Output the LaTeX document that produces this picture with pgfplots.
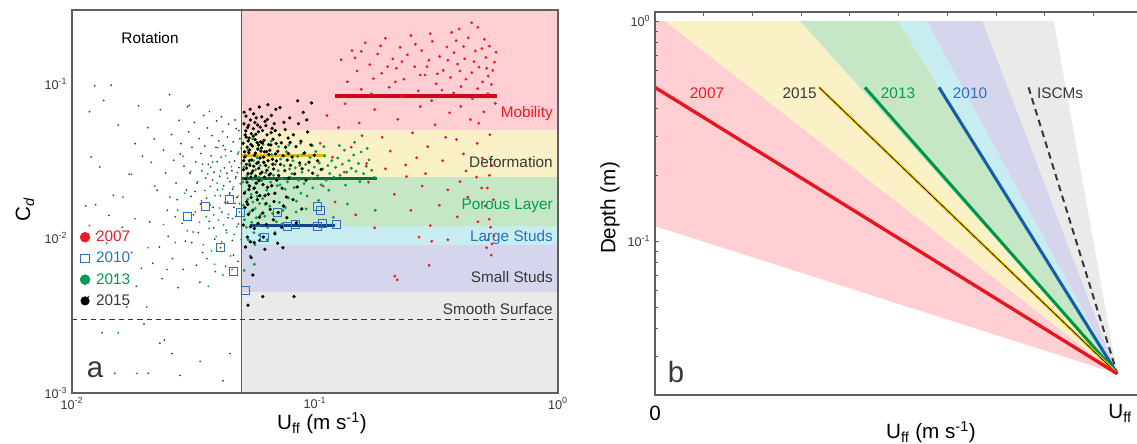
\documentclass[border=0pt]{standalone}
\usepackage{fontspec}
\setmainfont{Liberation Sans}
\setsansfont{Liberation Sans}
\usepackage{pgfplots}
\pgfplotsset{compat=1.18}
\definecolor{pinkband}{RGB}{255,207,212}
\definecolor{yelband}{RGB}{250,242,198}
\definecolor{grnband}{RGB}{197,231,197}
\definecolor{cyaband}{RGB}{200,237,241}
\definecolor{lavband}{RGB}{213,213,236}
\definecolor{gryband}{RGB}{234,234,234}
\definecolor{redc}{RGB}{238,28,36}
\definecolor{grnc}{RGB}{0,158,80}
\definecolor{bluc}{RGB}{45,112,190}
\definecolor{txtgray}{RGB}{55,55,55}
\definecolor{axgray}{RGB}{95,95,95}
\definecolor{redmean}{RGB}{205,10,30}
\definecolor{yelmean}{RGB}{232,185,10}
\definecolor{grnmean}{RGB}{0,112,55}
\definecolor{blumean}{RGB}{25,65,145}
\definecolor{redline}{RGB}{232,20,30}
\definecolor{yelline}{RGB}{242,200,20}
\definecolor{grnline}{RGB}{0,150,72}
\definecolor{bluline}{RGB}{20,92,172}
\newcommand\lab{\fontsize{11.5}{13.8}\selectfont}
\newcommand\axl{\fontsize{15.5}{18}\selectfont}
\newcommand\tkl{\fontsize{9.5}{11}\selectfont}
\newcommand\pl{\fontsize{22}{26}\selectfont}
\begin{document}
\begin{tikzpicture}[x=0.75pt,y=0.75pt]
\useasboundingbox (0,0) rectangle (1137,443);
% ---------------- panel a ----------------
\begin{axis}[at={(54pt,37.5pt)}, anchor=south west, scale only axis,
  width=364.5pt, height=287.25pt,
  xmode=log, ymode=log, xmin=0.01, xmax=1, ymin=0.001, ymax=0.3,
  axis on top,
  axis line style={draw=axgray, line width=0.8pt},
  xtick={0.01,0.1,1}, xticklabels={10\textsuperscript{-2},10\textsuperscript{-1},10\textsuperscript{0}},
  ytick={0.001,0.01,0.1}, yticklabels={10\textsuperscript{-3},10\textsuperscript{-2},10\textsuperscript{-1}},
  major tick length=0pt, minor tick length=0pt,
  tick label style={font=\tkl, text=txtgray},
  legend style={at={(0.008,0.438)}, anchor=north west, draw=none, fill=none, font=\lab, row sep=2.4pt,
    /tikz/every odd column/.append style={column sep=2.5pt}},
  legend cell align=left,
  clip=true]
\addplot[draw=none, fill=pinkband, forget plot] coordinates {(0.05,0.05) (1,0.05) (1,0.3) (0.05,0.3)} -- cycle;
\addplot[draw=none, fill=yelband, forget plot] coordinates {(0.05,0.025) (1,0.025) (1,0.05) (0.05,0.05)} -- cycle;
\addplot[draw=none, fill=grnband, forget plot] coordinates {(0.05,0.012) (1,0.012) (1,0.025) (0.05,0.025)} -- cycle;
\addplot[draw=none, fill=cyaband, forget plot] coordinates {(0.05,0.009) (1,0.009) (1,0.012) (0.05,0.012)} -- cycle;
\addplot[draw=none, fill=lavband, forget plot] coordinates {(0.05,0.0045) (1,0.0045) (1,0.009) (0.05,0.009)} -- cycle;
\addplot[draw=none, fill=gryband, forget plot] coordinates {(0.05,0.001) (1,0.001) (1,0.0045) (0.05,0.0045)} -- cycle;
\addplot[txtgray, line width=1pt, dash pattern=on 4pt off 3pt, forget plot] coordinates {(0.01,0.003) (1,0.003)};
\addplot[axgray, line width=0.8pt, forget plot] coordinates {(0.05,0.001) (0.05,0.3)};
% small dots, rotation region (2015)
\addplot[only marks, mark=*, mark size=0.45pt, black!75, forget plot] coordinates {
(0.0124,0.097) (0.0135,0.078) (0.0145,0.098) (0.0118,0.066) (0.0120,0.0336) (0.0114,0.0162) (0.0125,0.0165) (0.0130,0.029) (0.0142,0.0141) (0.0155,0.054) (0.0148,0.019) (0.0172,0.026) (0.0188,0.072) (0.0182,0.041) (0.0195,0.034) (0.0126,0.0107) (0.0139,0.0093) (0.0161,0.0118) (0.0176,0.0081) (0.0193,0.0064) (0.0151,0.0057) (0.0184,0.0049) (0.0168,0.0036) (0.0198,0.0028) (0.0133,0.00245) (0.0150,0.00134) (0.0206,0.00134) (0.0230,0.0021) (0.0240,0.0022) (0.0258,0.0018) (0.0278,0.0013) (0.0337,0.0016) (0.0418,0.0012) (0.0447,0.0018) (0.0117,0.0042)
(0.0205,0.052) (0.0212,0.031) (0.0218,0.044) (0.0224,0.0205) (0.0209,0.0128) (0.0231,0.068) (0.0238,0.0372) (0.0243,0.0265) (0.0229,0.0088) (0.0247,0.0152) (0.0215,0.0069) (0.0235,0.0055) (0.0249,0.0103)
(0.0252,0.085) (0.0257,0.047) (0.0262,0.032) (0.0268,0.0228) (0.0271,0.0178) (0.0276,0.058) (0.0281,0.041) (0.0284,0.0125) (0.0289,0.0293) (0.0293,0.0096) (0.0296,0.0206) (0.0259,0.0074) (0.0273,0.0048) (0.0287,0.0063) (0.0299,0.071) (0.0266,0.0138) (0.0279,0.0351)
(0.0302,0.049) (0.0306,0.0264) (0.0309,0.0187) (0.0312,0.0388) (0.0316,0.0142) (0.0319,0.0562) (0.0323,0.0312) (0.0327,0.0228) (0.0331,0.0109) (0.0334,0.0442) (0.0338,0.0167) (0.0342,0.0273) (0.0345,0.0081) (0.0348,0.0623) (0.0311,0.0094) (0.0325,0.0067) (0.0339,0.0354) (0.0304,0.0725) (0.0336,0.0052) (0.0321,0.0201)
(0.0352,0.0395) (0.0355,0.0246) (0.0358,0.0182) (0.0361,0.0519) (0.0364,0.0301) (0.0367,0.0129) (0.0371,0.0217) (0.0374,0.0342) (0.0377,0.0462) (0.0381,0.0159) (0.0384,0.0268) (0.0387,0.0099) (0.0391,0.0388) (0.0394,0.0575) (0.0397,0.0206) (0.0359,0.0074) (0.0372,0.0288) (0.0383,0.0117) (0.0389,0.0061) (0.0368,0.0662) (0.0379,0.0238) (0.0396,0.0314)
(0.0402,0.0427) (0.0405,0.0252) (0.0408,0.0189) (0.0411,0.0335) (0.0414,0.0148) (0.0417,0.0491) (0.0421,0.0219) (0.0424,0.0286) (0.0427,0.0375) (0.0431,0.0113) (0.0434,0.0264) (0.0437,0.0172) (0.0441,0.0548) (0.0444,0.0311) (0.0447,0.0233) (0.0409,0.0087) (0.0419,0.0398) (0.0429,0.0066) (0.0439,0.0136) (0.0412,0.0612) (0.0436,0.0452) (0.0446,0.0197)
(0.0452,0.0366) (0.0455,0.0274) (0.0458,0.0208) (0.0461,0.0421) (0.0464,0.0159) (0.0467,0.0317) (0.0471,0.0245) (0.0474,0.0513) (0.0477,0.0184) (0.0481,0.0352) (0.0484,0.0124) (0.0487,0.0287) (0.0491,0.0441) (0.0494,0.0226) (0.0497,0.0383) (0.0457,0.0097) (0.0469,0.0583) (0.0479,0.0266) (0.0489,0.0168) (0.0462,0.0078) (0.0486,0.0498) (0.0473,0.0139) (0.0498,0.0305) (0.0482,0.0071)
};
% small dots, rotation region (2013)
\addplot[only marks, mark=*, mark size=0.45pt, grnc, forget plot] coordinates {
(0.0118,0.0121) (0.0162,0.0185) (0.0176,0.026) (0.0203,0.0036) (0.0219,0.0218) (0.0246,0.0063) (0.0253,0.0185) (0.0286,0.034) (0.0291,0.0196) (0.0298,0.0112) (0.0315,0.011) (0.0322,0.0148) (0.0329,0.0233) (0.0335,0.0127) (0.0341,0.0175) (0.0347,0.0091) (0.0352,0.0204) (0.0357,0.0138) (0.0362,0.0261) (0.0366,0.0116) (0.0371,0.0165) (0.0375,0.0083) (0.0379,0.0312) (0.0383,0.0142) (0.0388,0.0189) (0.0392,0.0103) (0.0396,0.0228) (0.0401,0.0131) (0.0405,0.0157) (0.0409,0.0274) (0.0413,0.0095) (0.0417,0.0208) (0.0421,0.0122) (0.0425,0.0171) (0.0429,0.0342) (0.0433,0.0109) (0.0437,0.0246) (0.0441,0.0143) (0.0445,0.0192) (0.0449,0.0077) (0.0453,0.0291) (0.0457,0.0134) (0.0461,0.0215) (0.0465,0.0106) (0.0469,0.0168) (0.0473,0.0251) (0.0477,0.0119) (0.0481,0.0187) (0.0485,0.0362) (0.0489,0.0148) (0.0493,0.0226) (0.0497,0.0098) (0.0308,0.0271) (0.0272,0.0152) (0.0266,0.0094) (0.0386,0.0068) (0.0418,0.0058) (0.0364,0.0049) (0.0155,0.00245) (0.0185,0.00134) (0.0182,0.0134) (0.0206,0.0087) (0.0238,0.0123) (0.0344,0.0302) (0.0398,0.0386) (0.0456,0.0063)
};
% 2007 red
\addplot[only marks, mark=*, mark size=0.85pt, redc, forget plot] coordinates {
(0.128,0.143) (0.136,0.103) (0.142,0.164) (0.149,0.121) (0.155,0.092) (0.161,0.184) (0.168,0.133) (0.174,0.108) (0.181,0.156) (0.188,0.117) (0.195,0.197) (0.202,0.095) (0.209,0.145) (0.216,0.126) (0.224,0.172) (0.232,0.107) (0.240,0.154) (0.248,0.205) (0.257,0.129) (0.266,0.090) (0.275,0.164) (0.284,0.114) (0.294,0.142) (0.304,0.188) (0.315,0.100) (0.326,0.150) (0.337,0.122) (0.349,0.173) (0.361,0.110) (0.373,0.159) (0.386,0.134) (0.399,0.096) (0.413,0.145) (0.427,0.198) (0.442,0.118) (0.457,0.163) (0.473,0.128) (0.489,0.103) (0.505,0.148) (0.522,0.175) (0.539,0.122) (0.556,0.160) (0.146,0.147) (0.171,0.086) (0.199,0.129) (0.228,0.139) (0.259,0.180) (0.289,0.129) (0.319,0.116) (0.352,0.142) (0.381,0.190) (0.418,0.107) (0.451,0.139) (0.486,0.169) (0.516,0.112) (0.548,0.138) (0.214,0.103) (0.271,0.114) (0.333,0.091) (0.395,0.121) (0.467,0.093) (0.532,0.099) (0.186,0.176) (0.298,0.211) (0.409,0.174) (0.498,0.194) (0.441,0.248) (0.365,0.215) (0.155,0.162) (0.509,0.126) (0.468,0.232) (0.392,0.226)
(0.105,0.0412) (0.112,0.0623) (0.118,0.0335) (0.125,0.0521) (0.133,0.0742) (0.141,0.0389) (0.152,0.0558) (0.163,0.0305) (0.176,0.0682) (0.189,0.0451) (0.204,0.0367) (0.219,0.0589) (0.236,0.0298) (0.252,0.0481) (0.271,0.0712) (0.291,0.0392) (0.312,0.0543) (0.335,0.0318) (0.358,0.0649) (0.382,0.0436) (0.408,0.0352) (0.436,0.0587) (0.465,0.0412) (0.495,0.0658) (0.524,0.0468) (0.552,0.0746) (0.228,0.0826) (0.302,0.0778) (0.372,0.0872) (0.445,0.0801) (0.515,0.0862) (0.195,0.0282) (0.262,0.0332) (0.345,0.0451) (0.418,0.0273) (0.488,0.0331) (0.535,0.0296) (0.156,0.0462) (0.285,0.0262) (0.398,0.0714) (0.472,0.0556)
(0.108,0.0218) (0.121,0.0172) (0.147,0.0142) (0.166,0.0231) (0.212,0.0193) (0.248,0.0152) (0.276,0.0218) (0.298,0.0121) (0.325,0.0164) (0.352,0.0206) (0.385,0.0138) (0.425,0.0185) (0.462,0.0249) (0.502,0.0162) (0.521,0.0133) (0.528,0.0118) (0.516,0.0098) (0.535,0.0092) (0.508,0.0087) (0.531,0.0078) (0.213,0.0057) (0.218,0.0054) (0.295,0.0067) (0.268,0.0102) (0.302,0.0096) (0.352,0.0098) (0.545,0.0104) (0.485,0.0212) (0.395,0.0233) (0.238,0.0251) (0.132,0.0268) (0.522,0.0256) (0.512,0.0212) (0.542,0.0178) (0.468,0.0128) (0.176,0.0117)
};
% 2013 green
\addplot[only marks, mark=*, mark size=0.9pt, grnc, forget plot] coordinates {
(0.0504,0.0231) (0.0507,0.0164) (0.0510,0.0289) (0.0513,0.0132) (0.0516,0.0201) (0.0519,0.0342) (0.0522,0.0118) (0.0525,0.0254) (0.0528,0.0179) (0.0531,0.0098) (0.0534,0.0221) (0.0537,0.0305) (0.0540,0.0148) (0.0543,0.0263) (0.0546,0.0193) (0.0549,0.0127) (0.0552,0.0241) (0.0555,0.0172) (0.0558,0.0318) (0.0561,0.0109) (0.0564,0.0213) (0.0567,0.0156) (0.0570,0.0278) (0.0573,0.0136) (0.0576,0.0227) (0.0579,0.0187) (0.0582,0.0382) (0.0585,0.0121) (0.0588,0.0249) (0.0591,0.0168) (0.0594,0.0296) (0.0597,0.0142) (0.0506,0.0411) (0.0518,0.0088) (0.0530,0.0371) (0.0542,0.0077) (0.0554,0.0439) (0.0566,0.0091) (0.0578,0.0332) (0.0590,0.0105) (0.0511,0.0062) (0.0563,0.0068)
(0.0603,0.0236) (0.0609,0.0181) (0.0615,0.0312) (0.0621,0.0139) (0.0627,0.0266) (0.0633,0.0205) (0.0639,0.0118) (0.0645,0.0288) (0.0651,0.0162) (0.0657,0.0231) (0.0663,0.0349) (0.0669,0.0145) (0.0675,0.0256) (0.0681,0.0195) (0.0687,0.0301) (0.0693,0.0128) (0.0699,0.0219) (0.0706,0.0274) (0.0714,0.0171) (0.0722,0.0326) (0.0730,0.0243) (0.0738,0.0152) (0.0746,0.0295) (0.0754,0.0208) (0.0762,0.0364) (0.0770,0.0232) (0.0778,0.0183) (0.0786,0.0281) (0.0794,0.0247) (0.0612,0.0405) (0.0636,0.0098) (0.0660,0.0425) (0.0684,0.0109) (0.0708,0.0392) (0.0732,0.0124) (0.0756,0.0158) (0.0780,0.0402) (0.0624,0.0166) (0.0672,0.0303) (0.0718,0.0222)
(0.0803,0.0262) (0.0812,0.0318) (0.0821,0.0213) (0.0830,0.0286) (0.0839,0.0174) (0.0848,0.0339) (0.0857,0.0238) (0.0866,0.0297) (0.0875,0.0196) (0.0884,0.0268) (0.0893,0.0352) (0.0902,0.0226) (0.0915,0.0301) (0.0928,0.0188) (0.0941,0.0275) (0.0954,0.0334) (0.0967,0.0245) (0.0980,0.0212) (0.0993,0.0289) (0.1008,0.0365) (0.1025,0.0255) (0.1042,0.0307) (0.1059,0.0222) (0.1076,0.0281) (0.1093,0.0342) (0.1110,0.0238) (0.1130,0.0296) (0.1150,0.0263) (0.1172,0.0318) (0.1195,0.0249) (0.0836,0.0148) (0.0872,0.0412) (0.0920,0.0155) (0.0975,0.0398) (0.1035,0.0176) (0.1088,0.0392) (0.1140,0.0205)
(0.1215,0.0288) (0.1240,0.0331) (0.1268,0.0256) (0.1295,0.0302) (0.1322,0.0372) (0.1350,0.0268) (0.1380,0.0318) (0.1410,0.0284) (0.1442,0.0346) (0.1475,0.0272) (0.1510,0.0305) (0.1548,0.0362) (0.1585,0.0262) (0.1625,0.0293) (0.1668,0.0322) (0.1712,0.0276) (0.1755,0.0248) (0.1260,0.0398) (0.1335,0.0221) (0.1455,0.0418) (0.1530,0.0233) (0.1640,0.0382) (0.1360,0.0167) (0.1190,0.0137) (0.1770,0.0152)
};
% 2015 black
\addplot[only marks, mark=*, mark size=1.05pt, black, forget plot] coordinates {
(0.0506,0.0412) (0.0508,0.0278) (0.0510,0.0551) (0.0512,0.0196) (0.0514,0.0336) (0.0516,0.0467) (0.0518,0.0243) (0.0520,0.0618) (0.0522,0.0301) (0.0524,0.0172) (0.0526,0.0389) (0.0528,0.0521) (0.0530,0.0262) (0.0532,0.0143) (0.0534,0.0358) (0.0536,0.0446) (0.0538,0.0218) (0.0540,0.0297) (0.0542,0.0583) (0.0544,0.0405) (0.0546,0.0184) (0.0548,0.0322) (0.0507,0.0122) (0.0513,0.0363) (0.0519,0.0495) (0.0525,0.0231) (0.0531,0.0427) (0.0537,0.0318) (0.0543,0.0119) (0.0549,0.0264) (0.0511,0.0655) (0.0523,0.0285) (0.0535,0.0207) (0.0547,0.0476) (0.0515,0.0158) (0.0527,0.0102) (0.0539,0.0374) (0.0521,0.0452) (0.0533,0.0539) (0.0545,0.0249) (0.0509,0.0318) (0.0541,0.0684) (0.0529,0.0166) (0.0517,0.0088)
(0.0552,0.0396) (0.0555,0.0273) (0.0558,0.0512) (0.0561,0.0211) (0.0564,0.0344) (0.0567,0.0436) (0.0570,0.0253) (0.0573,0.0602) (0.0576,0.0306) (0.0579,0.0178) (0.0582,0.0378) (0.0585,0.0489) (0.0588,0.0236) (0.0591,0.0137) (0.0594,0.0331) (0.0597,0.0421) (0.0554,0.0152) (0.0560,0.0293) (0.0566,0.0562) (0.0572,0.0228) (0.0578,0.0417) (0.0584,0.0311) (0.0590,0.0708) (0.0596,0.0262) (0.0557,0.0459) (0.0563,0.0116) (0.0569,0.0356) (0.0575,0.0198) (0.0581,0.0541) (0.0587,0.0284) (0.0593,0.0189) (0.0599,0.0367) (0.0559,0.0639) (0.0571,0.0472) (0.0583,0.0125) (0.0595,0.0524) (0.0562,0.0094) (0.0586,0.0402)
(0.0602,0.0385) (0.0605,0.0268) (0.0608,0.0498) (0.0611,0.0223) (0.0614,0.0335) (0.0617,0.0431) (0.0620,0.0249) (0.0623,0.0571) (0.0626,0.0296) (0.0629,0.0168) (0.0632,0.0364) (0.0635,0.0467) (0.0638,0.0214) (0.0641,0.0318) (0.0644,0.0404) (0.0647,0.0257) (0.0604,0.0611) (0.0610,0.0146) (0.0616,0.0309) (0.0622,0.0189) (0.0628,0.0536) (0.0634,0.0276) (0.0640,0.0732) (0.0646,0.0349) (0.0607,0.0415) (0.0619,0.0363) (0.0631,0.0123) (0.0643,0.0193) (0.0613,0.0102) (0.0637,0.0588)
(0.0652,0.0372) (0.0656,0.0262) (0.0660,0.0483) (0.0664,0.0219) (0.0668,0.0325) (0.0672,0.0438) (0.0676,0.0281) (0.0680,0.0552) (0.0684,0.0196) (0.0688,0.0352) (0.0692,0.0411) (0.0696,0.0238) (0.0654,0.0154) (0.0662,0.0624) (0.0670,0.0301) (0.0678,0.0173) (0.0686,0.0497) (0.0694,0.0317) (0.0658,0.0402) (0.0674,0.0132) (0.0690,0.0684) (0.0666,0.0515)
(0.0703,0.0366) (0.0709,0.0255) (0.0715,0.0467) (0.0721,0.0301) (0.0727,0.0415) (0.0733,0.0211) (0.0739,0.0342) (0.0745,0.0563) (0.0751,0.0274) (0.0757,0.0389) (0.0763,0.0185) (0.0769,0.0321) (0.0775,0.0446) (0.0781,0.0246) (0.0787,0.0602) (0.0793,0.0297) (0.0706,0.0147) (0.0718,0.0701) (0.0730,0.0118) (0.0742,0.0162) (0.0754,0.0505) (0.0766,0.0136) (0.0778,0.0354) (0.0790,0.0417)
(0.0805,0.0336) (0.0815,0.0468) (0.0825,0.0261) (0.0835,0.0392) (0.0845,0.0215) (0.0855,0.0552) (0.0865,0.0308) (0.0875,0.0425) (0.0885,0.0282) (0.0895,0.0653) (0.0905,0.0357) (0.0918,0.0238) (0.0932,0.0488) (0.0945,0.0311) (0.0962,0.0402) (0.0978,0.0264) (0.0995,0.0345) (0.0812,0.0178) (0.0848,0.0776) (0.0882,0.0155) (0.0925,0.0584) (0.0968,0.0752) (0.1025,0.0318) (0.1060,0.0279) (0.0838,0.0126)
(0.0530,0.0037) (0.0610,0.0042) (0.0820,0.0042) (0.0546,0.0075) (0.0592,0.0097) (0.0622,0.0085) (0.0702,0.0093) (0.0738,0.0087) (0.0684,0.0107) (0.0555,0.0058) (0.0542,0.0095)
};
% 2010 blue squares
\addplot[only marks, mark=square, mark size=3pt, bluc, line width=0.75pt, forget plot] coordinates {
(0.030,0.0139) (0.0356,0.0161) (0.0443,0.0179) (0.0492,0.0146) (0.041,0.0087) (0.046,0.0061) (0.052,0.0046) (0.0698,0.0148) (0.0617,0.0101) (0.1028,0.0161) (0.105,0.0152) (0.0828,0.0123) (0.0771,0.012) (0.102,0.012) (0.107,0.0125) (0.123,0.0123)
};
% mean values
\addplot[redmean, line width=3pt, forget plot] coordinates {(0.121,0.0836) (0.561,0.0836)};
\addplot[yelmean, line width=2.2pt, forget plot] coordinates {(0.05,0.0346) (0.111,0.0346)};
\addplot[grnmean, line width=2.2pt, forget plot] coordinates {(0.05,0.0245) (0.180,0.0245)};
\addplot[blumean, line width=2.2pt, forget plot] coordinates {(0.054,0.0122) (0.121,0.0122)};
% legend
\addlegendimage{only marks, mark=*, mark size=3.7pt, redc}
\addlegendentry{\textcolor{redc}{2007}}
\addlegendimage{only marks, mark=square, mark size=3.3pt, bluc, line width=0.75pt}
\addlegendentry{\textcolor{bluc}{2010}}
\addlegendimage{only marks, mark=*, mark size=3.7pt, grnc}
\addlegendentry{\textcolor{grnc}{2013}}
\addlegendimage{only marks, mark=*, mark size=3.2pt, black}
\addlegendentry{\textcolor{txtgray}{2015}}
\end{axis}
% ---------------- panel b ----------------
\begin{axis}[at={(491.25pt,36pt)}, anchor=south west, scale only axis,
  width=365.25pt, height=287.25pt,
  xmin=0, xmax=1, ymode=log, ymin=0.02, ymax=1.1,
  axis on top,
  axis line style={draw=axgray, line width=0.8pt},
  xtick={0.1,0.2,0.3,0.4,0.5,0.6,0.7,0.8,0.9}, xticklabels={}, xtick pos=right,
  ytick={0.1,1}, yticklabels={10\textsuperscript{-1},10\textsuperscript{0}},
  minor ytick={0.03,0.04,0.05,0.06,0.07,0.08,0.09,0.2,0.3,0.4,0.5,0.6,0.7,0.8,0.9},
  major tick length=3.2pt, minor tick length=2.2pt,
  tick style={axgray, line width=0.6pt},
  tick label style={font=\tkl, text=txtgray},
  clip=true]
\addplot[draw=none, fill=pinkband] coordinates {(0,0.117) (0,1) (0.021,1) (0.949,0.025)} -- cycle;
\addplot[draw=none, fill=yelband] coordinates {(0.021,1) (0.298,1) (0.949,0.025)} -- cycle;
\addplot[draw=none, fill=grnband] coordinates {(0.298,1) (0.499,1) (0.949,0.025)} -- cycle;
\addplot[draw=none, fill=cyaband] coordinates {(0.499,1) (0.558,1) (0.949,0.025)} -- cycle;
\addplot[draw=none, fill=lavband] coordinates {(0.558,1) (0.673,1) (0.949,0.025)} -- cycle;
\addplot[draw=none, fill=gryband] coordinates {(0.673,1) (0.819,1) (0.949,0.025)} -- cycle;
\addplot[txtgray, line width=1.5pt, dash pattern=on 5pt off 3.5pt] coordinates {(0.767,0.5) (0.949,0.025)};
\addplot[bluline, line width=2.3pt] coordinates {(0.583,0.5) (0.949,0.025)};
\addplot[grnline, line width=2.3pt] coordinates {(0.431,0.5) (0.949,0.025)};
\addplot[yelline, line width=2.1pt] coordinates {(0.337,0.5) (0.949,0.025)};
\addplot[black, line width=0.45pt] coordinates {(0.337,0.5) (0.949,0.025)};
\addplot[redline, line width=2.5pt] coordinates {(0,0.5) (0.949,0.025)};
\end{axis}
% ---------------- texts ----------------
\begin{scope}[every node/.style={inner sep=0pt}]
\node[font=\lab, text=black] at (150,405) {Rotation};
\node[font=\lab, text=redc, anchor=east] at (553,329) {Mobility};
\node[font=\lab, text=txtgray, anchor=east] at (553,281) {Deformation};
\node[font=\lab, text=grnc, anchor=east] at (553,237) {Porous Layer};
\node[font=\lab, text=bluc, anchor=east] at (553,205) {Large Studs};
\node[font=\lab, text=txtgray, anchor=east] at (553,166) {Small Studs};
\node[font=\lab, text=txtgray, anchor=east] at (553,134) {Smooth Surface};
\node[font=\pl, text=txtgray] at (95,73) {a};
\node[font=\axl, rotate=90] at (25,233) {C\textsubscript{\itshape d}};
\node[font=\axl] at (322,20) {U\textsubscript{ff} (m s\textsuperscript{-1})};
\node[font=\lab, text=redc] at (707,350) {2007};
\node[font=\lab, text=txtgray, anchor=east] at (817,350) {2015};
\node[font=\lab, text=grnc] at (898,350) {2013};
\node[font=\lab, text=bluc] at (970,350) {2010};
\node[font=\lab, text=txtgray] at (1060,350) {ISCMs};
\node[font=\pl, text=txtgray] at (676,71) {b};
\node[font=\axl] at (655,30) {0};
\node[font=\axl] at (1120,30) {U\textsubscript{ff}};
\node[font=\axl] at (931,11) {U\textsubscript{ff} (m s\textsuperscript{-1})};
\node[font=\axl, rotate=90] at (610,235) {Depth (m)};
\end{scope}
\end{tikzpicture}
\end{document}
